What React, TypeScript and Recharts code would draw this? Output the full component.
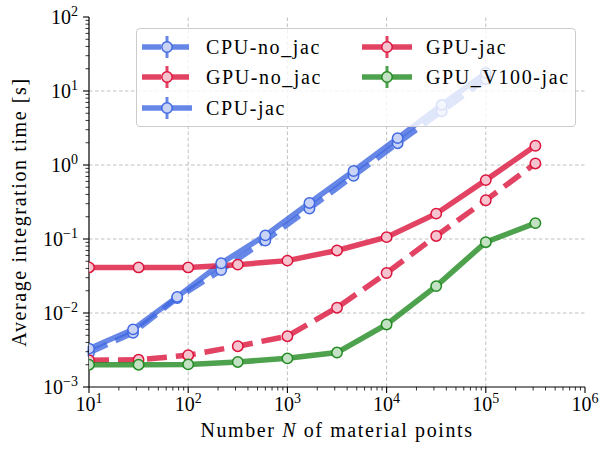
import React from 'react'
import { LineChart, Line, XAxis, YAxis, ReferenceLine, ErrorBar, Legend } from 'recharts'

// number of material points
const cpuN = [10, 27.8, 77.4, 215, 599, 1668, 4642, 12915, 35938, 100000]
const gpuN = [10, 31.6, 100, 316, 1000, 3162, 10000, 31623, 100000, 316228]

// average integration time [s]
const cpuNoJac = [0.0029, 0.0054, 0.0159, 0.038, 0.0955, 0.258, 0.716, 1.97, 5.3, 14.5]
const cpuNoJacErr = [0.0003, 0.0006, 0.002, 0.005, 0.011, 0.03, 0.08, 0.2, 0.5, 1.4]
const cpuJac = [0.0033, 0.006, 0.0165, 0.047, 0.112, 0.307, 0.83, 2.31, 6.5, 17.5]
const cpuJacErr = [0.0003, 0.0006, 0.002, 0.005, 0.012, 0.03, 0.08, 0.2, 0.6, 1.6]
const gpuNoJac = [0.0023, 0.00233, 0.00269, 0.00356, 0.00486, 0.0118, 0.0347, 0.11, 0.334, 1.05]
const gpuJac = [0.0413, 0.0413, 0.0413, 0.045, 0.051, 0.07, 0.106, 0.22, 0.625, 1.82]
const gpuV100Jac = [0.002, 0.002, 0.00202, 0.00218, 0.00244, 0.00292, 0.007, 0.0231, 0.0906, 0.164]

const xDecades = [10, 100, 1000, 10000, 100000, 1000000]
const yDecades = [0.001, 0.01, 0.1, 1, 10, 100]

const BLUE = '#4169e1'
const RED = '#dc143c'
const GREEN = '#228b22'
const FONT = "'Liberation Serif', 'DejaVu Serif', serif"
const SPACING = 1.6

const withMinors = (decades: number[]) => {
  const out: number[] = []
  decades.forEach((d, i) => {
    out.push(d)
    if (i < decades.length - 1) for (let m = 2; m < 10; m++) out.push(d * m)
  })
  return out
}
const xTicks = withMinors(xDecades)
const yTicks = withMinors(yDecades)

const rows = (xs: number[], ys: number[], errs?: number[]) =>
  xs.map((x, i) => ({ x, y: ys[i], err: errs ? errs[i] : 0 }))

const series = [
  { name: 'CPU-no_jac', data: rows(cpuN, cpuNoJac, cpuNoJacErr), color: BLUE, fill: '#c9d3f6', dashed: true, err: true },
  { name: 'GPU-no_jac', data: rows(gpuN, gpuNoJac), color: RED, fill: '#f5c4cf', dashed: true, err: false },
  { name: 'CPU-jac', data: rows(cpuN, cpuJac, cpuJacErr), color: BLUE, fill: '#c9d3f6', dashed: false, err: true },
  { name: 'GPU-jac', data: rows(gpuN, gpuJac), color: RED, fill: '#f5c4cf', dashed: false, err: false },
  { name: 'GPU_V100-jac', data: rows(gpuN, gpuV100Jac), color: GREEN, fill: '#c3e1c3', dashed: false, err: false },
]

const expOf = (v: number) => Math.round(Math.log10(v))
const isMajor = (v: number) => Math.abs(Math.log10(v) - expOf(v)) < 1e-6
const supText = (e: number) => (e < 0 ? '\u2212' + Math.abs(e) : String(e))

const XTick = (props: any) => {
  const { x, y, payload } = props
  const v = payload.value
  const major = isMajor(v)
  return (
    <g>
      <line x1={x} x2={x} y1={y} y2={y + (major ? 6 : 3.5)} stroke="#000" strokeWidth={major ? 1.1 : 0.8} />
      {major && (
        <text x={x} y={y + 24} textAnchor="middle" fontSize={20} fontFamily={FONT} fill="#000">
          10<tspan dy={-8} fontSize={14}>{supText(expOf(v))}</tspan>
        </text>
      )}
    </g>
  )
}

const YTick = (props: any) => {
  const { x, y, payload } = props
  const v = payload.value
  const major = isMajor(v)
  return (
    <g>
      <line x1={x} x2={x - (major ? 6 : 3.5)} y1={y} y2={y} stroke="#000" strokeWidth={major ? 1.1 : 0.8} />
      {major && (
        <text x={x - 11} y={y + 7} textAnchor="end" fontSize={20} fontFamily={FONT} fill="#000">
          10<tspan dy={-8} fontSize={14}>{supText(expOf(v))}</tspan>
        </text>
      )}
    </g>
  )
}

const Handle = ({ color, fill, dashed, w }: { color: string; fill: string; dashed: boolean; w: number }) => (
  <svg width={w} height={24} style={{ position: 'absolute', left: 0, top: -12 }}>
    <line x1={0} x2={w} y1={12} y2={12} stroke={color} strokeOpacity={0.8} strokeWidth={5.5}
      strokeDasharray={dashed ? '19 9' : undefined} />
    <line x1={w / 2} x2={w / 2} y1={1} y2={23} stroke={color} strokeOpacity={0.8} strokeWidth={3} />
    <circle cx={w / 2} cy={12} r={5.2} fill={fill} stroke={color} strokeWidth={1.5} />
  </svg>
)

const legendPos = [
  { left: 5, top: 18 },
  { left: 5, top: 48 },
  { left: 5, top: 79 },
  { left: 225, top: 18 },
  { left: 225, top: 48 },
]

const LegendBox = () => (
  <div
    style={{
      position: 'relative',
      width: 438,
      height: 97,
      background: 'rgba(255,255,255,0.8)',
      border: '1px solid #cccccc',
      borderRadius: 4,
      fontFamily: FONT,
      fontSize: 20,
      letterSpacing: SPACING,
      color: '#000',
    }}
  >
    {series.map((s, i) => (
      <div key={s.name} style={{ position: 'absolute', left: legendPos[i].left, top: legendPos[i].top, height: 0 }}>
        <Handle color={s.color} fill={s.fill} dashed={s.dashed} w={50} />
        <span style={{ position: 'absolute', left: 64, top: -12, whiteSpace: 'nowrap', lineHeight: '24px' }}>{s.name}</span>
      </div>
    ))}
  </div>
)

export default function App() {
  return (
    <div style={{ position: 'absolute', left: 0, top: 0, background: '#fff' }}>
      <LineChart width={609} height={451} margin={{ top: 17, right: 24, bottom: 0, left: 0 }}>
        <XAxis
          dataKey="x"
          type="number"
          scale="log"
          domain={[10, 1000000]}
          allowDataOverflow
          ticks={xTicks}
          interval={0}
          tick={<XTick />}
          tickLine={false}
          tickSize={0}
          tickMargin={0}
          height={64}
          axisLine={{ stroke: '#000', strokeWidth: 1.2 }}
          label={{
            content: (p: any) => {
              const vb = p.viewBox
              return (
                <text x={vb.x + vb.width / 2} y={vb.y + 50} textAnchor="middle" fontSize={20} letterSpacing={SPACING} fontFamily={FONT} fill="#000">
                  Number <tspan fontStyle="italic">N</tspan> of material points
                </text>
              )
            },
          }}
        />
        <XAxis xAxisId="top" orientation="top" dataKey="x" type="number" scale="log" domain={[10, 1000000]}
          allowDataOverflow height={0} tick={false} tickLine={false} axisLine={{ stroke: '#000', strokeWidth: 1.2 }} />
        <YAxis
          type="number"
          scale="log"
          domain={[0.001, 100]}
          allowDataOverflow
          ticks={yTicks}
          interval={0}
          tick={<YTick />}
          tickLine={false}
          tickSize={0}
          tickMargin={0}
          width={89}
          axisLine={{ stroke: '#000', strokeWidth: 1.2 }}
          label={{
            content: (p: any) => {
              const vb = p.viewBox
              const cx = 26
              const cy = vb.y + vb.height / 2 + 10
              return (
                <text x={cx} y={cy} transform={`rotate(-90 ${cx} ${cy})`} textAnchor="middle" fontSize={20} letterSpacing={SPACING} fontFamily={FONT} fill="#000">
                  Average integration time [s]
                </text>
              )
            },
          }}
        />
        <YAxis yAxisId="right" orientation="right" type="number" scale="log" domain={[0.001, 100]}
          allowDataOverflow width={0} tick={false} tickLine={false} axisLine={{ stroke: '#000', strokeWidth: 1.2 }} />
        {xDecades.slice(1, -1).map((v) => (
          <ReferenceLine key={'gx' + v} x={v} stroke="#b0b0b0" strokeWidth={0.8} strokeDasharray="3.5 2.5" />
        ))}
        {yDecades.slice(1, -1).map((v) => (
          <ReferenceLine key={'gy' + v} y={v} stroke="#b0b0b0" strokeWidth={0.8} strokeDasharray="3.5 2.5" />
        ))}
        {series.map((s) => (
          <Line
            key={s.name}
            data={s.data}
            dataKey="y"
            name={s.name}
            type="linear"
            stroke={s.color}
            strokeOpacity={0.8}
            strokeWidth={5.5}
            strokeDasharray={s.dashed ? '20 9' : undefined}
            dot={{ r: 5.2, fill: s.fill, stroke: s.color, strokeWidth: 1.5, strokeOpacity: 1, strokeDasharray: '' }}
            activeDot={false}
            isAnimationActive={false}
          >
            {s.err && <ErrorBar dataKey="err" direction="y" width={0} stroke={s.color} strokeOpacity={0.8} strokeWidth={3} />}
          </Line>
        ))}
        <Legend
          layout="vertical"
          align="center"
          verticalAlign="middle"
          content={() => <LegendBox />}
          wrapperStyle={{ left: 136, top: 28, width: 440, height: 99 }}
        />
      </LineChart>
    </div>
  )
}
